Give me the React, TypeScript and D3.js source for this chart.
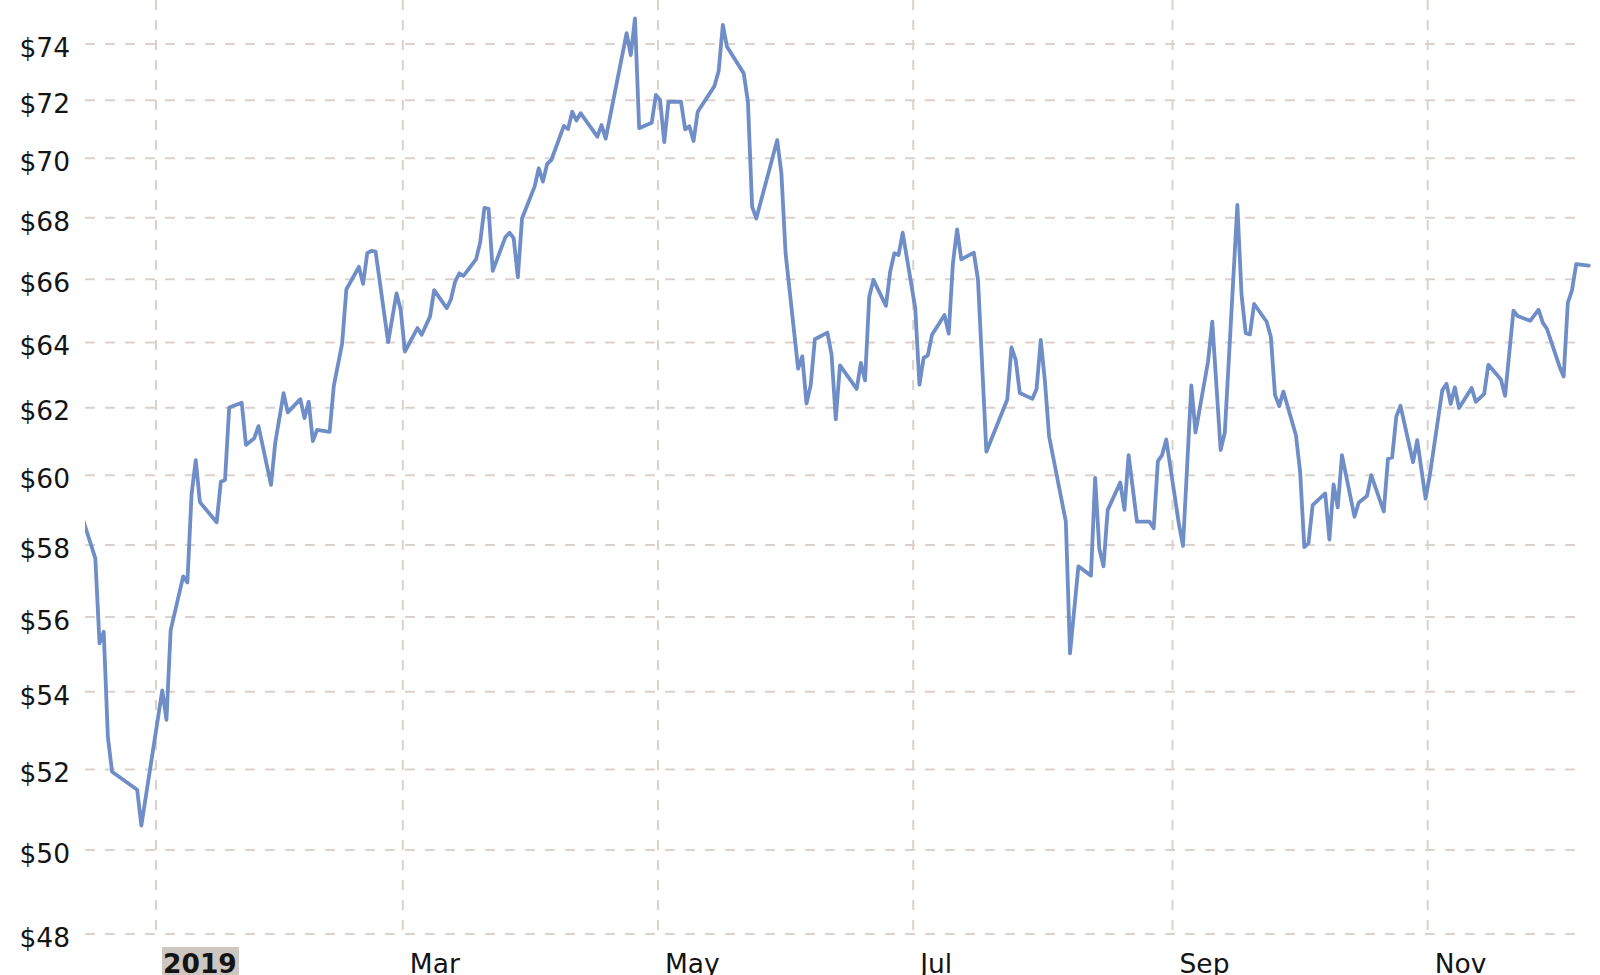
import React from "react";
import * as d3 from "d3";

const dates: string[] = [
  "2018-12-14","2018-12-17","2018-12-18","2018-12-19","2018-12-20","2018-12-21","2018-12-27","2018-12-28",
  "2019-01-02","2019-01-03","2019-01-04","2019-01-07","2019-01-08","2019-01-09","2019-01-10","2019-01-11",
  "2019-01-15","2019-01-16","2019-01-17","2019-01-18","2019-01-21","2019-01-22","2019-01-24","2019-01-25",
  "2019-01-28","2019-01-29","2019-01-31","2019-02-01","2019-02-04","2019-02-05","2019-02-06","2019-02-07",
  "2019-02-08","2019-02-11","2019-02-12","2019-02-14","2019-02-15","2019-02-18","2019-02-19","2019-02-20",
  "2019-02-21","2019-02-22","2019-02-25","2019-02-27","2019-02-28","2019-03-01","2019-03-04","2019-03-05",
  "2019-03-07","2019-03-08","2019-03-11","2019-03-12","2019-03-13","2019-03-14","2019-03-15","2019-03-18",
  "2019-03-19","2019-03-20","2019-03-21","2019-03-22","2019-03-25","2019-03-26","2019-03-27","2019-03-28",
  "2019-03-29","2019-04-01","2019-04-02","2019-04-03","2019-04-04","2019-04-05","2019-04-08","2019-04-09",
  "2019-04-10","2019-04-11","2019-04-12","2019-04-16","2019-04-17","2019-04-18","2019-04-23","2019-04-24",
  "2019-04-25","2019-04-26","2019-04-29","2019-04-30","2019-05-01","2019-05-02","2019-05-03","2019-05-06",
  "2019-05-07","2019-05-08","2019-05-09","2019-05-10","2019-05-14","2019-05-15","2019-05-16","2019-05-17",
  "2019-05-21","2019-05-22","2019-05-23","2019-05-24","2019-05-29","2019-05-30","2019-05-31","2019-06-03",
  "2019-06-04","2019-06-05","2019-06-06","2019-06-07","2019-06-10","2019-06-11","2019-06-12","2019-06-13",
  "2019-06-17","2019-06-18","2019-06-19","2019-06-20","2019-06-21","2019-06-24","2019-06-25","2019-06-26",
  "2019-06-27","2019-06-28","2019-07-01","2019-07-02","2019-07-03","2019-07-04","2019-07-05","2019-07-08",
  "2019-07-09","2019-07-10","2019-07-11","2019-07-12","2019-07-15","2019-07-16","2019-07-18","2019-07-23",
  "2019-07-24","2019-07-25","2019-07-26","2019-07-29","2019-07-30","2019-07-31","2019-08-01","2019-08-02",
  "2019-08-06","2019-08-07","2019-08-09","2019-08-12","2019-08-13","2019-08-14","2019-08-15","2019-08-16",
  "2019-08-19","2019-08-20","2019-08-21","2019-08-23","2019-08-26","2019-08-27","2019-08-28","2019-08-29",
  "2019-08-30","2019-09-02","2019-09-03","2019-09-05","2019-09-06","2019-09-09","2019-09-10","2019-09-12",
  "2019-09-13","2019-09-16","2019-09-17","2019-09-18","2019-09-19","2019-09-20","2019-09-23","2019-09-24",
  "2019-09-25","2019-09-26","2019-09-27","2019-09-30","2019-10-01","2019-10-02","2019-10-03","2019-10-04",
  "2019-10-07","2019-10-08","2019-10-09","2019-10-10","2019-10-11","2019-10-14","2019-10-15","2019-10-16",
  "2019-10-17","2019-10-18","2019-10-21","2019-10-22","2019-10-23","2019-10-24","2019-10-25","2019-10-28",
  "2019-10-29","2019-10-31","2019-11-01","2019-11-04","2019-11-05","2019-11-06","2019-11-07","2019-11-08",
  "2019-11-11","2019-11-12","2019-11-14","2019-11-15","2019-11-18","2019-11-19","2019-11-21","2019-11-22",
  "2019-11-25","2019-11-27","2019-11-28","2019-11-29","2019-12-02","2019-12-03","2019-12-04","2019-12-05",
  "2019-12-06","2019-12-09"
];

const prices: number[] = [
  58.73,57.62,55.29,55.60,52.82,51.94,51.49,50.60,
  54.04,53.27,55.64,57.12,56.95,59.44,60.44,59.22,
  58.64,59.81,59.86,62.01,62.15,60.89,61.09,61.45,
  59.72,60.95,62.44,61.86,62.26,61.69,62.18,61.00,
  61.34,61.28,62.66,63.97,65.67,66.40,65.85,66.84,
  66.92,66.89,64.01,65.55,65.02,63.72,64.45,64.24,
  64.81,65.65,65.08,65.36,65.92,66.19,66.11,66.64,
  67.20,68.33,68.30,66.27,67.36,67.51,67.33,66.06,
  67.98,69.04,69.66,69.21,69.81,69.94,71.11,71.00,
  71.60,71.30,71.55,70.74,71.14,70.67,74.39,73.60,
  74.93,71.03,71.22,72.19,72.01,70.55,71.95,71.95,
  70.99,71.10,70.59,71.60,72.50,73.03,74.69,73.90,
  72.95,71.95,68.37,67.98,70.62,69.49,66.84,63.19,
  63.57,62.13,62.68,64.10,64.31,63.62,61.65,63.29,
  62.57,63.37,62.83,65.44,65.98,65.15,66.24,66.84,
  66.78,67.51,65.08,62.70,63.52,63.60,64.24,64.86,
  64.28,66.51,67.62,66.64,66.86,65.98,60.69,62.25,
  63.85,63.47,62.45,62.27,62.57,64.08,62.81,61.14,
  58.66,55.02,57.40,57.14,59.92,57.89,57.40,58.99,
  59.79,59.00,60.59,58.66,58.66,58.47,60.41,60.59,
  61.05,58.61,57.97,62.68,61.26,63.42,64.65,60.74,
  61.26,68.43,65.50,64.29,64.25,65.21,64.65,64.18,
  62.39,62.05,62.49,61.18,60.11,57.94,58.05,59.13,
  59.47,58.15,59.73,59.07,60.59,58.80,59.20,59.30,
  59.40,60.00,58.95,60.48,60.52,61.74,62.06,60.38,
  61.03,59.32,60.00,62.54,62.73,62.12,62.62,61.99,
  62.60,62.18,62.42,63.31,62.86,62.36,65.00,64.83,
  64.68,65.03,64.62,64.43,63.26,62.95,65.25,65.65,
  66.49,66.44
];

const yTicks: number[] = [48, 50, 52, 54, 56, 58, 60, 62, 64, 66, 68, 70, 72, 74];
const xTickDates: string[] = ["2019-01-01", "2019-03-01", "2019-05-01", "2019-07-01", "2019-09-01", "2019-11-01"];
const xTickLabels: string[] = ["2019", "Mar", "May", "Jul", "Sep", "Nov"];

const W = 1600;
const H = 975;
const LEFT = 85;
const GRID_RIGHT = 1582;
const TOP = 0;
const BOTTOM = 934;
const HALF_DAY = 12 * 3600 * 1000;

const FONT = "'DejaVu Sans', Verdana, sans-serif";
const GRID = "#dbd2cd";
const LINE = "#6f8dc6";
const TEXT = "#141414";

const parse = (s: string) => new Date(s + "T00:00:00Z");

export default function App() {
  const x = d3
    .scaleUtc()
    .domain([parse("2019-01-01"), parse("2019-11-01")])
    .range([156, 1427.7]);
  const y = d3.scaleLog().domain([48, 74]).range([934, 44]);

  const data = dates.map((d, i) => ({ t: new Date(parse(d).getTime() + HALF_DAY), v: prices[i] }));
  const line = d3
    .line<{ t: Date; v: number }>()
    .x((d) => x(d.t))
    .y((d) => y(d.v));

  return (
    <svg
      width={W}
      height={H}
      viewBox={`0 0 ${W} ${H}`}
      style={{ position: "absolute", left: 0, top: 0, background: "#ffffff" }}
    >
      <defs>
        <clipPath id="plotclip">
          <rect x={LEFT} y={TOP} width={W - LEFT} height={BOTTOM - TOP + 10} />
        </clipPath>
      </defs>
      <rect x={0} y={0} width={W} height={H} fill="#ffffff" />
      {yTicks.map((t) => (
        <line
          key={"h" + t}
          x1={LEFT}
          x2={GRID_RIGHT}
          y1={y(t)}
          y2={y(t)}
          stroke={GRID}
          strokeWidth={2}
          strokeDasharray="10,10"
        />
      ))}
      {xTickDates.map((d) => (
        <line
          key={"v" + d}
          x1={x(parse(d))}
          x2={x(parse(d))}
          y1={TOP}
          y2={BOTTOM}
          stroke={GRID}
          strokeWidth={2}
          strokeDasharray="10,10"
        />
      ))}
      <path
        d={line(data) || ""}
        fill="none"
        stroke={LINE}
        strokeWidth={3.8}
        strokeLinejoin="round"
        strokeLinecap="round"
        clipPath="url(#plotclip)"
      />
      {yTicks.map((t) => (
        <text
          key={"yl" + t}
          x={70}
          y={y(t) + 12.7}
          textAnchor="end"
          fontFamily={FONT}
          fontSize={26.5}
          fill={TEXT}
        >
          {"$" + t}
        </text>
      ))}
      {xTickDates.map((d, i) => {
        const tx = x(parse(d));
        const bold = i === 0;
        return (
          <g key={"xl" + d}>
            {bold && <rect x={tx + 6} y={947} width={77} height={30} fill="#cdc6c1" />}
            <text
              x={tx + 7}
              y={973}
              fontFamily={FONT}
              fontSize={26.5}
              fontWeight={bold ? "bold" : "normal"}
              fill={TEXT}
            >
              {xTickLabels[i]}
            </text>
          </g>
        );
      })}
    </svg>
  );
}
